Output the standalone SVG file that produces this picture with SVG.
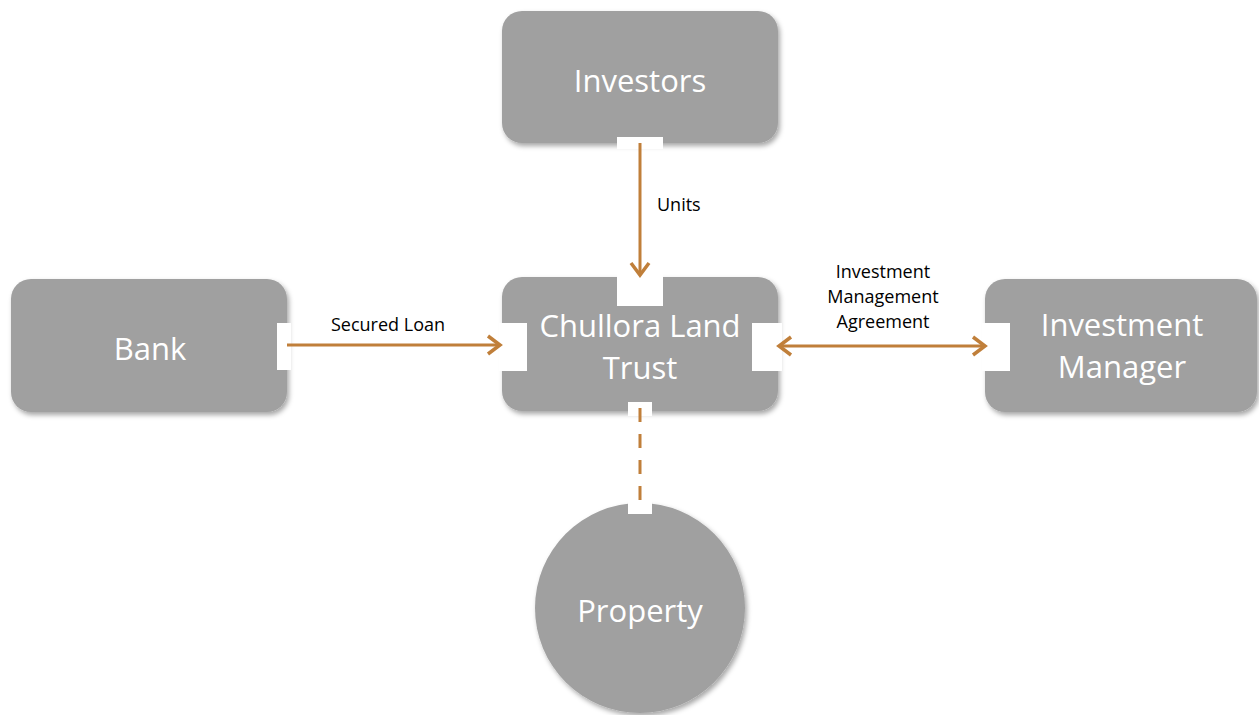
<svg xmlns="http://www.w3.org/2000/svg" width="1259" height="715" viewBox="0 0 1259 715">
  <style>
    .node { fill: #a0a0a0; filter: url(#shadow); }
    .gap { fill: #ffffff; }
    .title { font-family: "Open Sans", "Liberation Sans", sans-serif; font-size: 31px; fill: #ffffff; text-anchor: middle; }
    .label { font-family: "Open Sans", "Liberation Sans", sans-serif; font-size: 18px; fill: #000000; }
    .link { stroke: #c07f3a; stroke-width: 3; fill: none; }
  </style>
  <defs>
    <filter id="shadow" x="-10%" y="-10%" width="125%" height="130%">
      <feDropShadow dx="2" dy="3" stdDeviation="2.5" flood-color="#000000" flood-opacity="0.35"/>
    </filter>
    <marker id="chevron" markerUnits="userSpaceOnUse" markerWidth="30" markerHeight="30" refX="0" refY="0" viewBox="-15 -15 30 30" orient="auto-start-reverse" overflow="visible">
      <path d="M -12 -9 L 0 0 L -12 9" fill="none" stroke="#c07f3a" stroke-width="3.5" stroke-linejoin="miter"/>
    </marker>
  </defs>

  <rect width="1259" height="715" fill="#ffffff"/>

  <g id="investors">
    <rect class="node" x="502" y="11" width="276" height="132" rx="20"/>
    <rect class="gap" x="617" y="137" width="46" height="12"/>
    <text class="title" x="640" y="92">Investors</text>
  </g>

  <g id="trust">
    <rect class="node" x="502" y="277" width="276" height="134" rx="20"/>
    <rect class="gap" x="617" y="274" width="46" height="32"/>
    <rect class="gap" x="499" y="323" width="28" height="48"/>
    <rect class="gap" x="752" y="323" width="30" height="48"/>
    <rect class="gap" x="628" y="402" width="24" height="14"/>
    <text class="title" x="640" y="337">Chullora Land</text>
    <text class="title" x="640" y="379">Trust</text>
  </g>

  <g id="bank">
    <rect class="node" x="11" y="279" width="276" height="133" rx="20"/>
    <rect class="gap" x="277" y="323" width="14" height="47"/>
    <text class="title" x="150" y="360">Bank</text>
  </g>

  <g id="manager">
    <rect class="node" x="985" y="279" width="272" height="133" rx="20"/>
    <rect class="gap" x="982" y="323" width="28" height="48"/>
    <text class="title" x="1122" y="336">Investment</text>
    <text class="title" x="1122" y="378">Manager</text>
  </g>

  <g id="property">
    <circle class="node" cx="640" cy="608" r="105"/>
    <rect class="gap" x="628" y="498" width="24" height="16"/>
    <text class="title" x="640" y="622">Property</text>
  </g>

  <g id="connectors">
    <line class="link" x1="640" y1="143" x2="640" y2="275" marker-end="url(#chevron)"/>
    <line class="link" x1="287" y1="345" x2="500" y2="345" marker-end="url(#chevron)"/>
    <line class="link" x1="779" y1="346" x2="985" y2="346" marker-start="url(#chevron)" marker-end="url(#chevron)"/>
    <line class="link" x1="640" y1="408" x2="640" y2="500" stroke-dasharray="14 12"/>
    <text class="label" x="657" y="211">Units</text>
    <text class="label" x="388" y="331" text-anchor="middle">Secured Loan</text>
    <text class="label" x="883" y="278" text-anchor="middle">Investment</text>
    <text class="label" x="883" y="303" text-anchor="middle">Management</text>
    <text class="label" x="883" y="328" text-anchor="middle">Agreement</text>
  </g>
</svg>
